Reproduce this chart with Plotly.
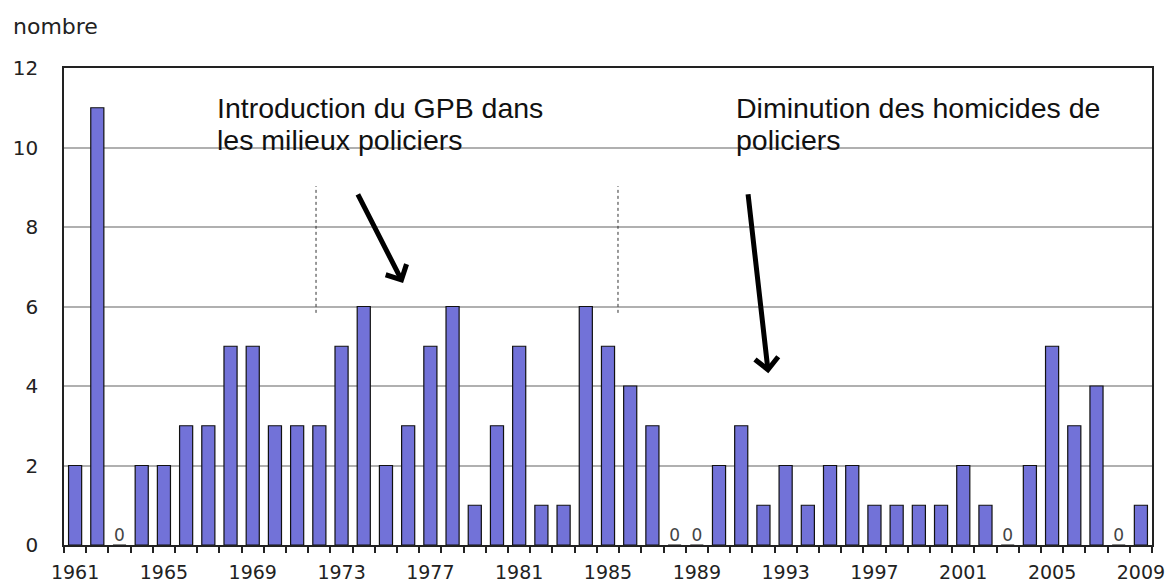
import plotly.graph_objects as go

years = list(range(1961, 2010))
counts = [2, 11, 0, 2, 2, 3, 3, 5, 5, 3, 3, 3, 5, 6, 2, 3, 5, 6, 1, 3,
          5, 1, 1, 6, 5, 4, 3, 0, 0, 2, 3, 1, 2, 1, 2, 2, 1, 1, 1, 1,
          2, 1, 0, 2, 5, 3, 4, 0, 1]
tick_years = list(range(1961, 2010, 4))
y_ticks = [0, 2, 4, 6, 8, 10, 12]

note_left = ["Introduction du GPB dans", "les milieux policiers"]
note_right = ["Diminution des homicides de", "policiers"]

TICK_FONT = dict(family="DejaVu Sans", size=19, color="#222")

zero_years = [y for y, c in zip(years, counts) if c == 0]

fig = go.Figure()
fig.add_trace(go.Bar(
    x=years, y=counts,
    marker=dict(color="#7272D8", line=dict(color="#111", width=1.2)),
    hoverinfo="x+y",
))
fig.add_trace(go.Scatter(
    x=zero_years, y=[0] * len(zero_years), mode="text",
    text=["0"] * len(zero_years), textposition="top center",
    textfont=dict(family="DejaVu Sans", size=17, color="#444"),
    hoverinfo="skip",
))

boundaries = [y - 0.5 for y in years] + [years[-1] + 0.5]

fig.update_layout(
    width=1176, height=584,
    margin=dict(l=64, r=24, t=68, b=39),
    paper_bgcolor="white", plot_bgcolor="white",
    showlegend=False, bargap=0.41,
    xaxis=dict(
        range=[years[0] - 0.5, years[-1] + 0.5], automargin=False,
        tickmode="array", tickvals=tick_years,
        ticktext=[str(y) for y in tick_years],
        ticks="", tickfont=TICK_FONT, ticklabelstandoff=9,
        showgrid=False, zeroline=False,
        showline=True, linecolor="#222", linewidth=1.5, mirror=True,
        minor=dict(ticks="outside", tickvals=boundaries, ticklen=6,
                   tickcolor="#222", tickwidth=1.5, showgrid=False),
    ),
    yaxis=dict(
        range=[0, 12], automargin=False, tickmode="array", tickvals=y_ticks,
        ticks="", tickfont=dict(family="DejaVu Sans", size=20, color="#222"),
        ticklabelstandoff=20,
        showgrid=True, gridcolor="#B0B0B0", gridwidth=2,
        zeroline=False,
        showline=True, linecolor="#222", linewidth=1.5, mirror=True,
    ),
)

ann = []
ann.append(dict(text="nombre", xref="paper", yref="paper", x=-0.049, y=1.088,
                xanchor="left", yanchor="middle", showarrow=False,
                font=dict(family="DejaVu Sans", size=22, color="#222")))
NOTE_FONT = dict(family="Liberation Sans", size=28.5, color="#111")
for i, line in enumerate(note_left):
    ann.append(dict(text=line, xref="paper", yref="paper", x=0.139,
                    y=[0.916, 0.849][i], xanchor="left", yanchor="middle",
                    showarrow=False, font=NOTE_FONT))
for i, line in enumerate(note_right):
    ann.append(dict(text=line, xref="paper", yref="paper", x=0.616,
                    y=[0.916, 0.849][i], xanchor="left", yanchor="middle",
                    showarrow=False, font=NOTE_FONT))

# arrows (head, tail) in axis coordinates
arrows = [((1975.77, 6.59), (1973.7, 8.86)),
          ((1992.22, 4.32), (1991.3, 8.86))]
for (hx, hy), (tx, ty) in arrows:
    ann.append(dict(text="", x=hx, y=hy, ax=tx, ay=ty, xref="x", yref="y",
                    axref="x", ayref="y", showarrow=True, arrowhead=4,
                    arrowsize=0.9, arrowwidth=5, arrowcolor="#000", standoff=0))
fig.update_layout(annotations=ann)

# dotted period markers
period_lines = [1971.85, 1985.45]
for xv in period_lines:
    fig.add_shape(type="line", xref="x", yref="y", x0=xv, x1=xv, y0=5.84, y1=9.03,
                  line=dict(color="#333", width=1, dash="dot"))

fig.write_html("out.html", config={"displayModeBar": False},
               post_script="document.body.style.margin='0';document.body.style.overflow='hidden';")
